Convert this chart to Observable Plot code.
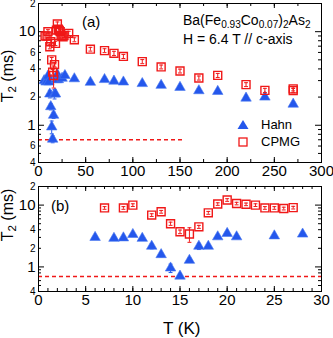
<!DOCTYPE html>
<html><head><meta charset="utf-8">
<script src="https://cdn.jsdelivr.net/npm/d3@7"></script>
<script src="https://cdn.jsdelivr.net/npm/@observablehq/plot@0.6"></script>
<style>
body{margin:0;background:#fff;font-family:"Liberation Sans",Arial,sans-serif}
#c{position:relative;width:333px;height:338px;overflow:hidden}
#c svg{display:block}
.ov{position:absolute;white-space:nowrap;color:#000;line-height:1}
.ov sub{font-size:72%;vertical-align:-0.3em;line-height:0}
</style>
</head><body><div id="c"></div>
<script>
// ---- data ----
const hahnT   = [6,8,9,10,11,12,13,14,15,16,17,18,19,20,21,25,28,38,55,70,80,90,110,130,150,170,190,220,240,270];
const hahnV   = [3.0,2.9,2.95,3.35,2.9,2.16,1.58,0.96,0.71,1.28,2.16,2.16,3.07,3.48,3.07,3.18,3.4,3.14,2.88,3.08,2.96,2.9,2.79,2.67,2.54,2.34,2.3,1.95,2.0,1.68];
const hahnErr = [0.1,0.1,0.1,0.1,0.1,0.2,0.12,0.15,0.06,0.1,0.25,0.1,0.1,0.1,0.1,0.1,0.1,0.1,0.1,0.1,0.1,0.1,0.1,0.1,0.1,0.1,0.1,0.1,0.1,0.08];
const cpmgT   = [7,9,10,12,13,14,15,16,17,18,19,20,21,22,23,24,25,26,27,32,38,55,70,80,90,110,130,150,170,190,220,240,270,270];
const cpmgV   = [9.0,9.0,10.0,6.9,7.8,5.0,3.7,3.4,4.45,7.5,10.4,12.1,10.6,10.3,10.0,9.0,9.0,8.8,9.1,9.6,8.2,6.5,6.27,5.87,5.44,4.79,4.2,3.8,3.2,3.41,2.72,2.36,2.45,2.35];
const cpmgErr = [0.45,0.45,0.5,0.35,0.4,0.3,0.25,0.9,0.25,0.4,0.5,0.6,0.5,0.5,0.5,0.45,0.45,0.45,0.45,0.5,0.4,0.3,0.3,0.3,0.27,0.24,0.2,0.18,0.16,0.17,0.13,0.12,0.12,0.12];
const dashLevel = 0.7;
const yMajorLabels = [1, 10];
const yMinorLabelsA = [0.4, 0.6, 2, 4, 6, 20];
const yMinorLabelsB = [0.4, 2, 4, 20];
const xTicksA = [0, 50, 100, 150, 200, 250, 300];
const xMinorA = d3.range(0, 301, 25);
const xTicksB = [0, 5, 10, 15, 20, 25, 30];
const xMinorB = d3.range(0, 31, 1);
const yMinor = [0.4,0.5,0.6,0.7,0.8,0.9,2,3,4,5,6,7,8,9,20];
const yMajor = [1, 10];

const BLUE = "#2457ec", RED = "#f01818";
const hahn = hahnT.map((t, i) => ({t, v: hahnV[i], e: hahnErr[i]}));
const cpmg = cpmgT.map((t, i) => ({t, v: cpmgV[i], e: cpmgErr[i]}));
const cap = {draw(ctx, size) { const w = Math.sqrt(size) / 2; ctx.moveTo(-w, 0); ctx.lineTo(w, 0); }};

function panel({xDomain, xTicks, xMinor, yMinorLabels, height, mt, mb, dashEnd}) {
  const ml = 38, mr = 12, W = 333;
  const pw = W - ml - mr, ph = height - mt - mb;
  const H = hahn.filter(d => d.t <= xDomain[1]);
  const C = cpmg.filter(d => d.t <= xDomain[1]);
  const small = d => String(Math.round(d >= 10 ? d / 10 : d < 1 ? d * 10 : d));
  return Plot.plot({
    width: W, height, marginLeft: ml, marginRight: mr, marginTop: mt, marginBottom: mb,
    style: {fontFamily: '"Liberation Sans", Arial, sans-serif', background: "#fff", color: "#000", overflow: "visible"},
    x: {domain: xDomain, axis: null},
    y: {type: "log", domain: [0.4, 20], axis: null},
    marks: [
      // ticks (inward)
      Plot.ruleY(yMinor, {insetRight: pw - 3, stroke: "#000"}),
      Plot.ruleY(yMinor, {insetLeft: pw - 3, stroke: "#000"}),
      Plot.ruleY(yMajor, {insetRight: pw - 6, stroke: "#000"}),
      Plot.ruleY(yMajor, {insetLeft: pw - 6, stroke: "#000"}),
      Plot.ruleX(xMinor, {insetTop: ph - 3, stroke: "#000"}),
      Plot.ruleX(xMinor, {insetBottom: ph - 3, stroke: "#000"}),
      Plot.ruleX(xTicks, {insetTop: ph - 5, stroke: "#000"}),
      Plot.ruleX(xTicks, {insetBottom: ph - 5, stroke: "#000"}),
      // tick labels
      Plot.text(xTicks, {x: d => d, text: d => String(d), frameAnchor: "bottom", lineAnchor: "top", dy: 3, fontSize: 15, fill: "#000"}),
      Plot.text(yMajorLabels, {y: d => d, text: d => String(d), frameAnchor: "left", textAnchor: "end", dx: -3, fontSize: 15, fill: "#000"}),
      Plot.text(yMinorLabels, {y: d => d, text: small, frameAnchor: "left", textAnchor: "end", dx: -3, fontSize: 10, fill: "#000"}),
      Plot.ruleY([dashLevel], {x1: xDomain[0], x2: dashEnd, stroke: RED, strokeWidth: 1.6, strokeDasharray: "4,3"}),
      // Hahn
      Plot.ruleX(H, {x: "t", y1: d => d.v - d.e, y2: d => d.v + d.e, stroke: BLUE, strokeWidth: 1}),
      Plot.dot(H, {x: "t", y: d => d.v - d.e, symbol: cap, r: 2.2, stroke: BLUE, strokeWidth: 1}),
      Plot.dot(H, {x: "t", y: d => d.v + d.e, symbol: cap, r: 2.2, stroke: BLUE, strokeWidth: 1}),
      Plot.dot(H, {x: "t", y: "v", symbol: "triangle", r: 3.9, fill: BLUE, stroke: "#4a78f0", strokeWidth: 0.6}),
      // CPMG
      Plot.dot(C, {x: "t", y: "v", symbol: "square", r: 4.5, stroke: RED, strokeWidth: 1.4, fill: "none"}),
      Plot.ruleX(C, {x: "t", y1: d => d.v - d.e, y2: d => d.v + d.e, stroke: RED, strokeWidth: 1}),
      Plot.dot(C, {x: "t", y: d => d.v - d.e, symbol: cap, r: 2.2, stroke: RED, strokeWidth: 1}),
      Plot.dot(C, {x: "t", y: d => d.v + d.e, symbol: cap, r: 2.2, stroke: RED, strokeWidth: 1}),
      Plot.frame({stroke: "#000", strokeWidth: 1})
    ]
  });
}

const c = document.getElementById("c");
c.appendChild(panel({xDomain: [0, 300], xTicks: xTicksA, xMinor: xMinorA, yMinorLabels: yMinorLabelsA, height: 180, mt: 3, mb: 18, dashEnd: 153}));
c.appendChild(panel({xDomain: [0, 30], xTicks: xTicksB, xMinor: xMinorB, yMinorLabels: yMinorLabelsB, height: 158, mt: 6, mb: 47, dashEnd: 30}));

function ov(html, style) {
  const d = document.createElement("div");
  d.className = "ov"; d.innerHTML = html;
  Object.assign(d.style, style);
  c.appendChild(d);
  return d;
}
ov("(a)", {left: "82px", top: "14px", fontSize: "15px"});
ov("(b)", {left: "51px", top: "198px", fontSize: "15px"});
ov("Ba(Fe<sub>0.93</sub>Co<sub>0.07</sub>)<sub>2</sub>As<sub>2</sub>", {left: "183px", top: "13px", fontSize: "14px"});
ov("H = 6.4 T // c-axis", {left: "183px", top: "32px", fontSize: "14px"});
ov("T (K)", {left: "163px", top: "320px", fontSize: "17px"});
const yl = (top) => ov("T<sub>2</sub> (ms)", {left: "8px", top: top + "px", fontSize: "16px", transform: "translate(-50%,-50%) rotate(-90deg)"});
yl(76); yl(215);
ov(`<svg width="12" height="11" style="vertical-align:middle"><path d="M6,1 L11.5,10 L0.5,10 Z" fill="${BLUE}"/></svg>`, {left: "237px", top: "119px"});
ov("Hahn", {left: "261px", top: "118px", fontSize: "13px"});
ov(`<svg width="12" height="12" style="vertical-align:middle"><rect x="2" y="2" width="8" height="8" fill="none" stroke="${RED}" stroke-width="1.3"/></svg>`, {left: "237px", top: "136px"});
ov("CPMG", {left: "261px", top: "135px", fontSize: "13px"});
</script>
</body></html>
